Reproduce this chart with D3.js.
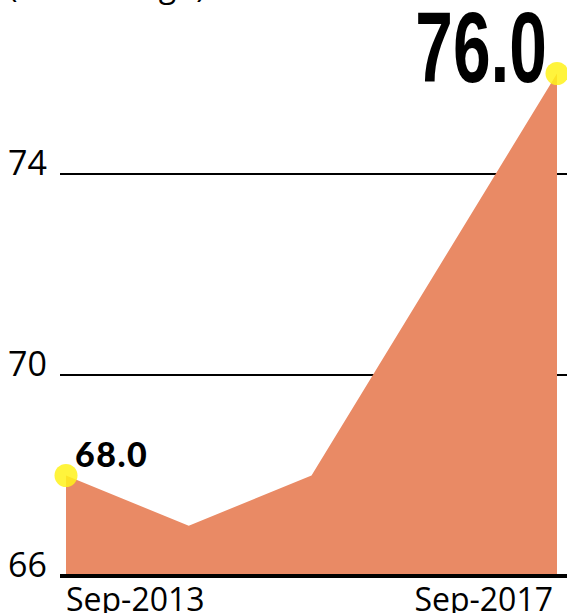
<!DOCTYPE html>
<html><head><meta charset="utf-8">
<script src="https://cdn.jsdelivr.net/npm/d3@7"></script>
<style>
html,body{margin:0;padding:0;background:#fff;}
svg{display:block;}
</style></head>
<body>
<svg id="c" width="567" height="613"></svg>
<script>
const categories = ["Sep-2013","Sep-2014","Sep-2015","Sep-2016","Sep-2017"];
const values = [68.0, 67.0, 68.0, 72.0, 76.0];
const yTicks = [66, 70, 74];
const xTickLabels = ["Sep-2013","Sep-2017"];
const title = "(Percentage)";

const svg = d3.select("#c");
const x = d3.scalePoint().domain(categories).range([66, 557]);
const y = d3.scaleLinear().domain([66, 76]).range([576, 73.5]);

// title (cropped at top)
svg.append("text").attr("x", 8).attr("y", -3)
  .attr("font-family", "Open Sans, sans-serif").attr("font-size", 32)
  .attr("letter-spacing", 1)
  .attr("fill", "#000").text(title);

// gridlines
svg.selectAll("line.grid").data(yTicks.filter(d => d !== 66)).join("line")
  .attr("x1", 60).attr("x2", 567)
  .attr("y1", d => y(d)).attr("y2", d => y(d))
  .attr("stroke", "#000").attr("stroke-width", 2);

// y tick labels
svg.selectAll("text.yt").data(yTicks).join("text")
  .attr("x", 47).attr("y", d => y(d) + 1)
  .attr("text-anchor", "end")
  .attr("font-family", "Open Sans, sans-serif").attr("font-size", 34)
  .attr("fill", "#000").text(d => d);

// area
const area = d3.area()
  .x((d, i) => x(categories[i]))
  .y0(y(66)).y1(d => y(d));
svg.append("path").datum(values).attr("d", area).attr("fill", "#E98A65");

// baseline
svg.append("line").attr("x1", 60).attr("x2", 567)
  .attr("y1", y(66)).attr("y2", y(66))
  .attr("stroke", "#000").attr("stroke-width", 4);

// x tick labels
svg.selectAll("text.xt").data(xTickLabels).join("text")
  .attr("x", (d, i) => i === 0 ? x(d) : x(d) - 4).attr("y", 611)
  .attr("text-anchor", (d, i) => i === 0 ? "start" : "end")
  .attr("font-family", "Open Sans, sans-serif").attr("font-size", 32)
  .attr("fill", "#000").text(d => d);

// highlight dots
const hl = [0, values.length - 1];
svg.selectAll("circle.dot").data(hl).join("circle")
  .attr("cx", i => x(categories[i])).attr("cy", i => y(values[i]))
  .attr("r", 11.5).attr("fill", "#FFF21A").attr("opacity", 0.85);

// first value label
svg.append("text").attr("x", 75).attr("y", 467)
  .attr("font-family", "Lato, sans-serif").attr("font-weight", 900)
  .attr("font-size", 34).attr("letter-spacing", 1.5).attr("fill", "#000")
  .text(values[0].toFixed(1));

// last value label (condensed, large)
const last = svg.append("g")
  .attr("transform", `translate(547,82) scale(0.67,1)`);
last.append("text").attr("x", 0).attr("y", 0)
  .attr("text-anchor", "end")
  .attr("font-family", "Liberation Sans Narrow, Liberation Sans, Arial, sans-serif")
  .attr("font-weight", 700).attr("font-size", 101).attr("fill", "#000")
  .text(values[values.length - 1].toFixed(1));
</script>
</body></html>
